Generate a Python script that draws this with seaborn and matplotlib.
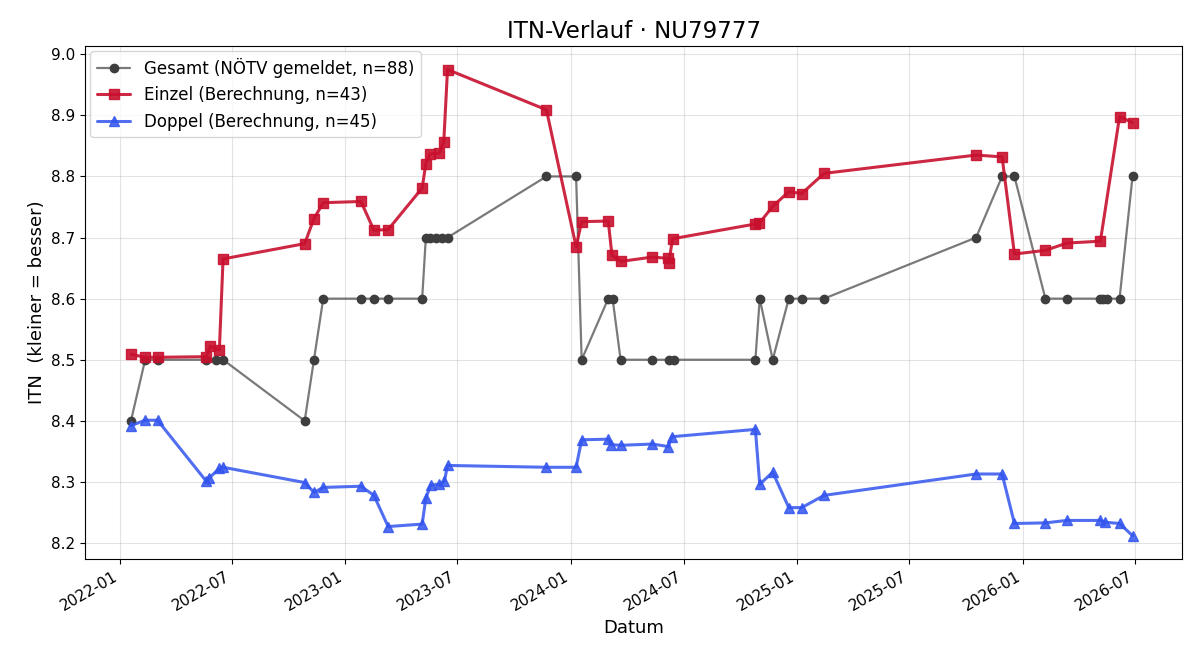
import matplotlib
matplotlib.use("Agg")
import matplotlib.dates as mdates
import matplotlib.pyplot as plt
import pandas as pd
import seaborn as sns

TITLE = "ITN-Verlauf · NU79777"

gesamt_dates = [
    "2022-01-19", "2022-02-11", "2022-03-03", "2022-05-21", "2022-06-06", "2022-06-17",
    "2022-10-27", "2022-11-11", "2022-11-26", "2023-01-26", "2023-02-16", "2023-03-11",
    "2023-05-05", "2023-05-11", "2023-05-18", "2023-05-28", "2023-06-06", "2023-06-15",
    "2023-11-22", "2024-01-09", "2024-01-18", "2024-03-01", "2024-03-08", "2024-03-21",
    "2024-05-11", "2024-06-07", "2024-06-15", "2024-10-25", "2024-11-01", "2024-11-22",
    "2024-12-18", "2025-01-08", "2025-02-13", "2025-10-17", "2025-11-28", "2025-12-18",
    "2026-02-06", "2026-03-13", "2026-05-06", "2026-05-11", "2026-05-16", "2026-06-06",
    "2026-06-27",
]
gesamt_itn = [
    8.4, 8.5, 8.5, 8.5, 8.5, 8.5,
    8.4, 8.5, 8.6, 8.6, 8.6, 8.6,
    8.6, 8.7, 8.7, 8.7, 8.7, 8.7,
    8.8, 8.8, 8.5, 8.6, 8.6, 8.5,
    8.5, 8.5, 8.5, 8.5, 8.6, 8.5,
    8.6, 8.6, 8.6, 8.7, 8.8, 8.8,
    8.6, 8.6, 8.6, 8.6, 8.6, 8.6,
    8.8,
]

einzel_dates = [
    "2022-01-19", "2022-02-11", "2022-03-03", "2022-05-21", "2022-05-27", "2022-06-11",
    "2022-06-17", "2022-10-27", "2022-11-11", "2022-11-26", "2023-01-26", "2023-02-16",
    "2023-03-11", "2023-05-05", "2023-05-11", "2023-05-18", "2023-06-02", "2023-06-09",
    "2023-06-15", "2023-11-22", "2024-01-09", "2024-01-18", "2024-03-01", "2024-03-07",
    "2024-03-22", "2024-05-11", "2024-06-06", "2024-06-07", "2024-06-13", "2024-10-24",
    "2024-10-31", "2024-11-22", "2024-12-18", "2025-01-08", "2025-02-13", "2025-10-17",
    "2025-11-28", "2025-12-18", "2026-02-06", "2026-03-13", "2026-05-06", "2026-06-06",
    "2026-06-27",
]
einzel_itn = [
    8.509, 8.504, 8.504, 8.505, 8.522, 8.516,
    8.665, 8.690, 8.731, 8.757, 8.759, 8.712,
    8.713, 8.781, 8.821, 8.837, 8.838, 8.857,
    8.975, 8.909, 8.685, 8.726, 8.727, 8.671,
    8.661, 8.668, 8.666, 8.659, 8.698, 8.722,
    8.723, 8.751, 8.775, 8.772, 8.805, 8.835,
    8.832, 8.673, 8.679, 8.691, 8.694, 8.898,
    8.888,
]

doppel_dates = [
    "2022-01-19", "2022-02-11", "2022-03-03", "2022-05-21", "2022-05-26", "2022-06-11",
    "2022-06-17", "2022-10-27", "2022-11-11", "2022-11-26", "2023-01-26", "2023-02-16",
    "2023-03-11", "2023-05-05", "2023-05-11", "2023-05-19", "2023-06-02", "2023-06-10",
    "2023-06-15", "2023-11-22", "2024-01-09", "2024-01-18", "2024-03-01", "2024-03-06",
    "2024-03-22", "2024-05-11", "2024-06-06", "2024-06-12", "2024-10-25", "2024-11-01",
    "2024-11-22", "2024-12-18", "2025-01-08", "2025-02-13", "2025-10-17", "2025-11-28",
    "2025-12-18", "2026-02-06", "2026-03-13", "2026-05-06", "2026-05-14", "2026-06-06",
    "2026-06-27",
]
doppel_itn = [
    8.392, 8.401, 8.401, 8.301, 8.307, 8.322,
    8.324, 8.299, 8.283, 8.291, 8.293, 8.278,
    8.227, 8.231, 8.274, 8.295, 8.296, 8.301,
    8.327, 8.324, 8.324, 8.369, 8.370, 8.361,
    8.360, 8.362, 8.358, 8.374, 8.386, 8.296,
    8.316, 8.258, 8.258, 8.278, 8.313, 8.313,
    8.232, 8.233, 8.237, 8.237, 8.234, 8.232,
    8.212,
]

labels = [
    "Gesamt (NÖTV gemeldet, n=88)",
    "Einzel (Berechnung, n=43)",
    "Doppel (Berechnung, n=45)",
]

sns.set_style("ticks")
plt.rcParams.update({
    "text.color": "black",
    "axes.labelcolor": "black",
    "xtick.color": "black",
    "ytick.color": "black",
})

fig, ax = plt.subplots(figsize=(12, 6.6), dpi=100)

sns.lineplot(
    x=pd.to_datetime(gesamt_dates), y=gesamt_itn, ax=ax,
    estimator=None, sort=False,
    color=(0.2, 0.2, 0.2, 0.65), linewidth=1.6,
    marker="o", markersize=6, markerfacecolor="#3e3e3e",
    markeredgecolor="#3e3e3e", markeredgewidth=1, label=labels[0],
)
sns.lineplot(
    x=pd.to_datetime(einzel_dates), y=einzel_itn, ax=ax,
    estimator=None, sort=False,
    color="#c8102e", alpha=0.9, linewidth=2.2,
    marker="s", markersize=6.5, markeredgecolor="#c8102e",
    markeredgewidth=1, label=labels[1],
)
sns.lineplot(
    x=pd.to_datetime(doppel_dates), y=doppel_itn, ax=ax,
    estimator=None, sort=False,
    color="#3355ee", alpha=0.85, linewidth=2.2,
    marker="^", markersize=6.5, markeredgecolor="#3355ee",
    markeredgewidth=1, label=labels[2],
)

ax.set_xlim(pd.Timestamp("2021-11-06"), pd.Timestamp("2026-09-15"))
ax.xaxis.set_major_locator(mdates.MonthLocator(bymonth=(1, 7)))
ax.xaxis.set_major_formatter(mdates.DateFormatter("%Y-%m"))
ax.grid(True, color="#b0b0b0", alpha=0.35)
ax.set_title(TITLE, fontsize=16.5)
ax.set_xlabel("Datum", fontsize=13)
ax.set_ylabel("ITN  (kleiner = besser)", fontsize=13)
ax.tick_params(labelsize=11)
ax.legend(loc="upper left", fontsize=12, borderaxespad=0.3)
for spine in ax.spines.values():
    spine.set_visible(True)
    spine.set_color("black")

fig.autofmt_xdate()
fig.subplots_adjust(left=0.071, right=0.985, top=0.930, bottom=0.153)
fig.savefig("out.png", dpi=100)
plt.close(fig)
